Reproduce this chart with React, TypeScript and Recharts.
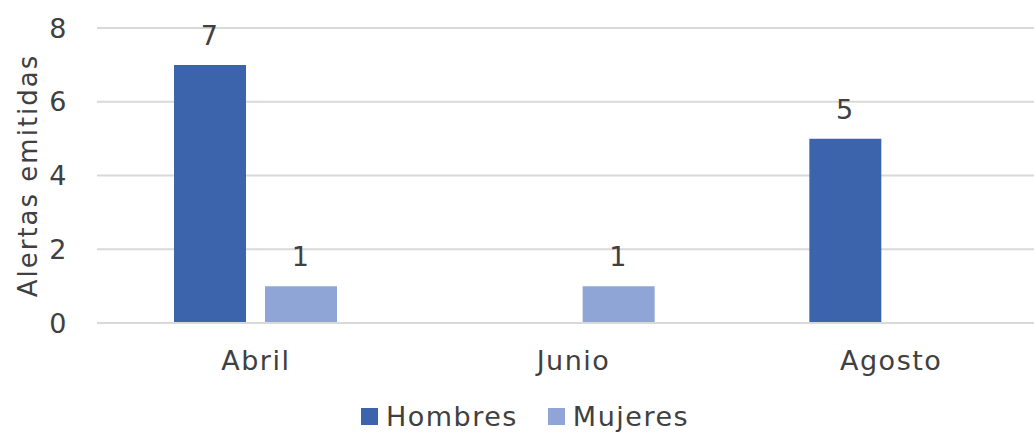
import { BarChart, Bar, XAxis, YAxis, CartesianGrid, Legend, LabelList, Label } from "recharts";

const months = ["Abril", "Junio", "Agosto"];
const hombres = [7, null, 5];
const mujeres = [1, 1, null];
const yTicks = [0, 2, 4, 6, 8];

const data = months.map((m, i) => ({ mes: m, Hombres: hombres[i], Mujeres: mujeres[i] }));

const FONT = "'DejaVu Sans', sans-serif";
const TEXT = "#404040";
const C_H = "#3c64ad";
const C_M = "#8fa5d5";
const tickStyle = { fontFamily: FONT, fontSize: 27, fill: TEXT, letterSpacing: 1.5 };

function LegendBox() {
  const items = [
    { name: "Hombres", color: C_H },
    { name: "Mujeres", color: C_M },
  ];
  return (
    <div style={{ display: "flex", justifyContent: "center", height: 36, alignItems: "center", fontFamily: FONT, fontSize: 27, letterSpacing: 1.5, color: TEXT }}>
      {items.map((it) => (
        <div key={it.name} style={{ display: "flex", alignItems: "center", margin: "0 15px" }}>
          <span style={{ width: 17, height: 17, background: it.color, display: "inline-block", marginRight: 8 }} />
          <span>{it.name}</span>
        </div>
      ))}
    </div>
  );
}

const fmt = (v: any) => (v == null ? "" : v);

export default function App() {
  return (
    <div style={{ position: "absolute", left: 0, top: 0, width: 1034, height: 432, overflow: "hidden", background: "#fff" }}>
      <BarChart
        width={1050}
        height={432}
        data={data}
        margin={{ top: 28, right: 0, left: 0, bottom: 0 }}
        barSize={72}
        barGap={19}
      >
        <CartesianGrid vertical={false} stroke="#d9d9d9" strokeWidth={2} />
        <XAxis
          dataKey="mes"
          height={73}
          axisLine={{ stroke: "#d9d9d9", strokeWidth: 2 }}
          tickLine={false}
          tickMargin={22}
          tick={tickStyle}
        />
        <YAxis
          width={97}
          domain={[0, 8]}
          ticks={yTicks}
          axisLine={false}
          tickLine={false}
          tickMargin={23}
          tick={tickStyle}
        >
          <Label
            content={(props: any) => {
              const vb = props.viewBox || {};
              const cy = (vb.y ?? 28) + (vb.height ?? 295) / 2;
              return (
                <text
                  x={28}
                  y={cy}
                  transform={`rotate(-90, 28, ${cy})`}
                  textAnchor="middle"
                  dominantBaseline="central"
                  fontFamily={FONT}
                  fontSize={26}
                  letterSpacing={2}
                  fill={TEXT}
                >
                  Alertas emitidas
                </text>
              );
            }}
          />
        </YAxis>
        <Legend verticalAlign="bottom" wrapperStyle={{ bottom: -2 }} content={() => <LegendBox />} />
        <Bar dataKey="Hombres" fill={C_H} isAnimationActive={false}>
          <LabelList dataKey="Hombres" position="top" offset={20} formatter={fmt} style={tickStyle} />
        </Bar>
        <Bar dataKey="Mujeres" fill={C_M} isAnimationActive={false}>
          <LabelList dataKey="Mujeres" position="top" offset={20} formatter={fmt} style={tickStyle} />
        </Bar>
      </BarChart>
    </div>
  );
}
